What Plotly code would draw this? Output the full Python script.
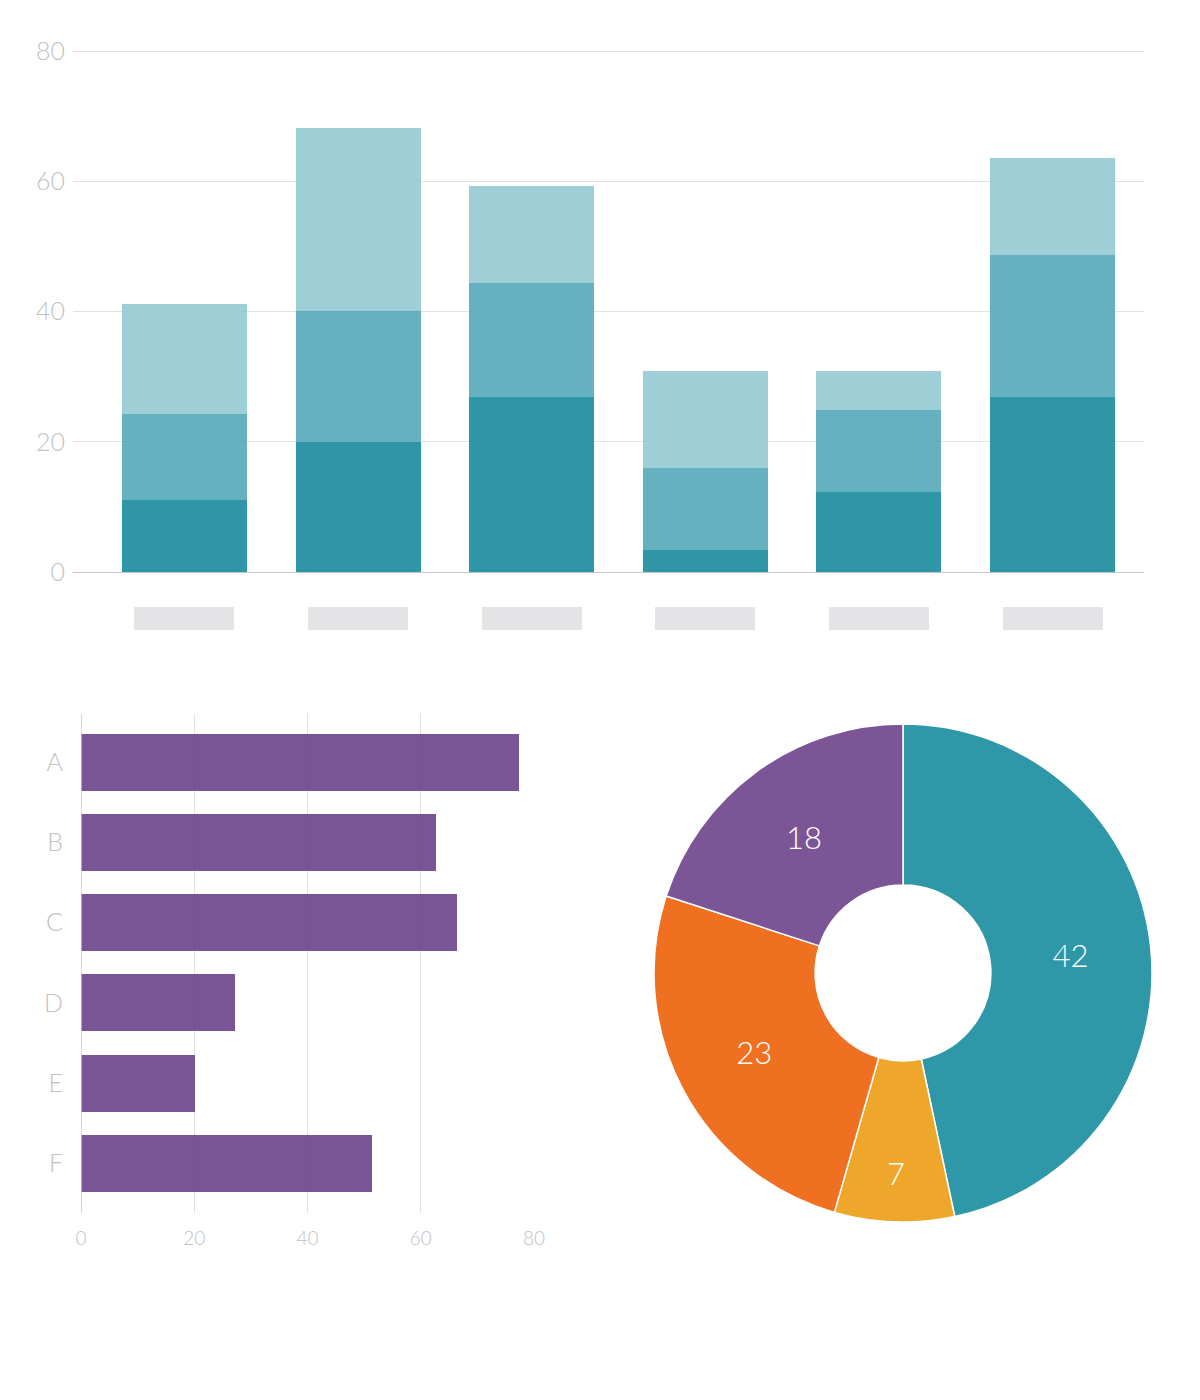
import plotly.graph_objects as go

# ---- data ----
groups = ["G1", "G2", "G3", "G4", "G5", "G6"]
series_dark = [11.2, 20.1, 27.0, 3.4, 12.4, 27.0]
series_mid = [13.2, 20.0, 17.4, 12.6, 12.6, 21.8]
series_light = [16.8, 28.1, 15.0, 14.9, 6.0, 14.9]
label_placeholders = [1, 1, 1, 1, 1, 1]

hbar_categories = ["A", "B", "C", "D", "E", "F"]
hbar_values = [77.3, 62.7, 66.4, 27.2, 20.1, 51.4]

donut_labels = ["Teal", "Yellow", "Orange", "Purple"]
donut_values = [42, 7, 23, 18]

W, H = 1200, 1400
FONT = "Lato"
TICK_COLOR = "#c2c2c2"
GRID = "#e2e2e2"


def px(x0, x1):
    return [x0 / W, x1 / W]


def py(top, bottom):
    return [1 - bottom / H, 1 - top / H]


fig = go.Figure()

# ---- top stacked bars ----
for vals, col in [
    (series_dark, "rgba(23,139,157,0.9)"),
    (series_mid, "rgba(85,169,184,0.9)"),
    (series_light, "rgba(149,202,209,0.9)"),
]:
    fig.add_trace(go.Bar(x=groups, y=vals, marker=dict(color=col, line=dict(width=0)),
                         width=0.72, xaxis="x", yaxis="y", hoverinfo="skip"))

# placeholder label boxes below the bars
fig.add_trace(go.Bar(x=groups, y=label_placeholders, marker=dict(color="#e4e4e6", line=dict(width=0)),
                     width=0.576, xaxis="x", yaxis="y4", hoverinfo="skip"))

# ---- horizontal bars ----
fig.add_trace(go.Bar(y=hbar_categories, x=hbar_values, orientation="h",
                     marker=dict(color="rgba(108,66,137,0.9)", line=dict(width=0)),
                     width=0.71, xaxis="x2", yaxis="y2", hoverinfo="skip"))

# ---- donut ----
fig.add_trace(go.Pie(labels=donut_labels, values=donut_values, hole=0.353, sort=False,
                     direction="clockwise", rotation=0,
                     marker=dict(colors=["#2E98A8", "#EEA72A", "#F07022", "#7B5595"],
                                 line=dict(color="white", width=1.5)),
                     textinfo="value", textposition="inside", insidetextorientation="horizontal",
                     textfont=dict(family=FONT, size=31, color="white", weight=300),
                     domain=dict(x=px(654, 1152), y=py(724, 1222)), showlegend=False,
                     automargin=False, hoverinfo="skip"))

tickfont = dict(family=FONT, size=25, color=TICK_COLOR, weight=300)

fig.update_layout(
    width=W, height=H, margin=dict(l=0, r=0, t=0, b=0, autoexpand=False),
    paper_bgcolor="white", plot_bgcolor="white",
    barmode="stack", bargap=0, showlegend=False,
    xaxis=dict(domain=px(73, 1144), range=[-0.642, 5.527], showticklabels=False, automargin=False,
               showgrid=False, zeroline=False, showline=False, fixedrange=True),
    yaxis=dict(domain=py(44.5, 572), range=[0, 81], tickvals=[0, 20, 40, 60, 80], automargin=False,
               showgrid=True, gridcolor=GRID, gridwidth=1, zeroline=True, zerolinecolor="#c8c8c8",
               zerolinewidth=1, showline=False, tickfont=tickfont, ticklabelstandoff=7),
    yaxis4=dict(domain=py(607, 630), range=[0, 1], visible=False, anchor="x", automargin=False),
    xaxis2=dict(domain=px(81, 534), range=[0, 80], anchor="y2", tickvals=[0, 20, 40, 60, 80],
                automargin=False,
                showgrid=True, gridcolor=GRID, gridwidth=1, zeroline=False, showline=False,
                tickfont=dict(family=FONT, size=19, color=TICK_COLOR, weight=300),
                ticklabelstandoff=12),
    yaxis2=dict(domain=py(714, 1213), range=[5.62, -0.6], anchor="x2", showgrid=False,
                automargin=False,
                zeroline=False, showline=False, tickfont=tickfont, ticklabelstandoff=17),
)

# y axis line of horizontal bar chart (at x=0)
fig.add_shape(type="line", xref="x2", yref="y2 domain", x0=0, x1=0, y0=0, y1=1,
              line=dict(color="#c8c8c8", width=1.5))

fig.write_html("out.html",
               post_script="document.body.style.margin='0';document.body.style.overflow='hidden';")
